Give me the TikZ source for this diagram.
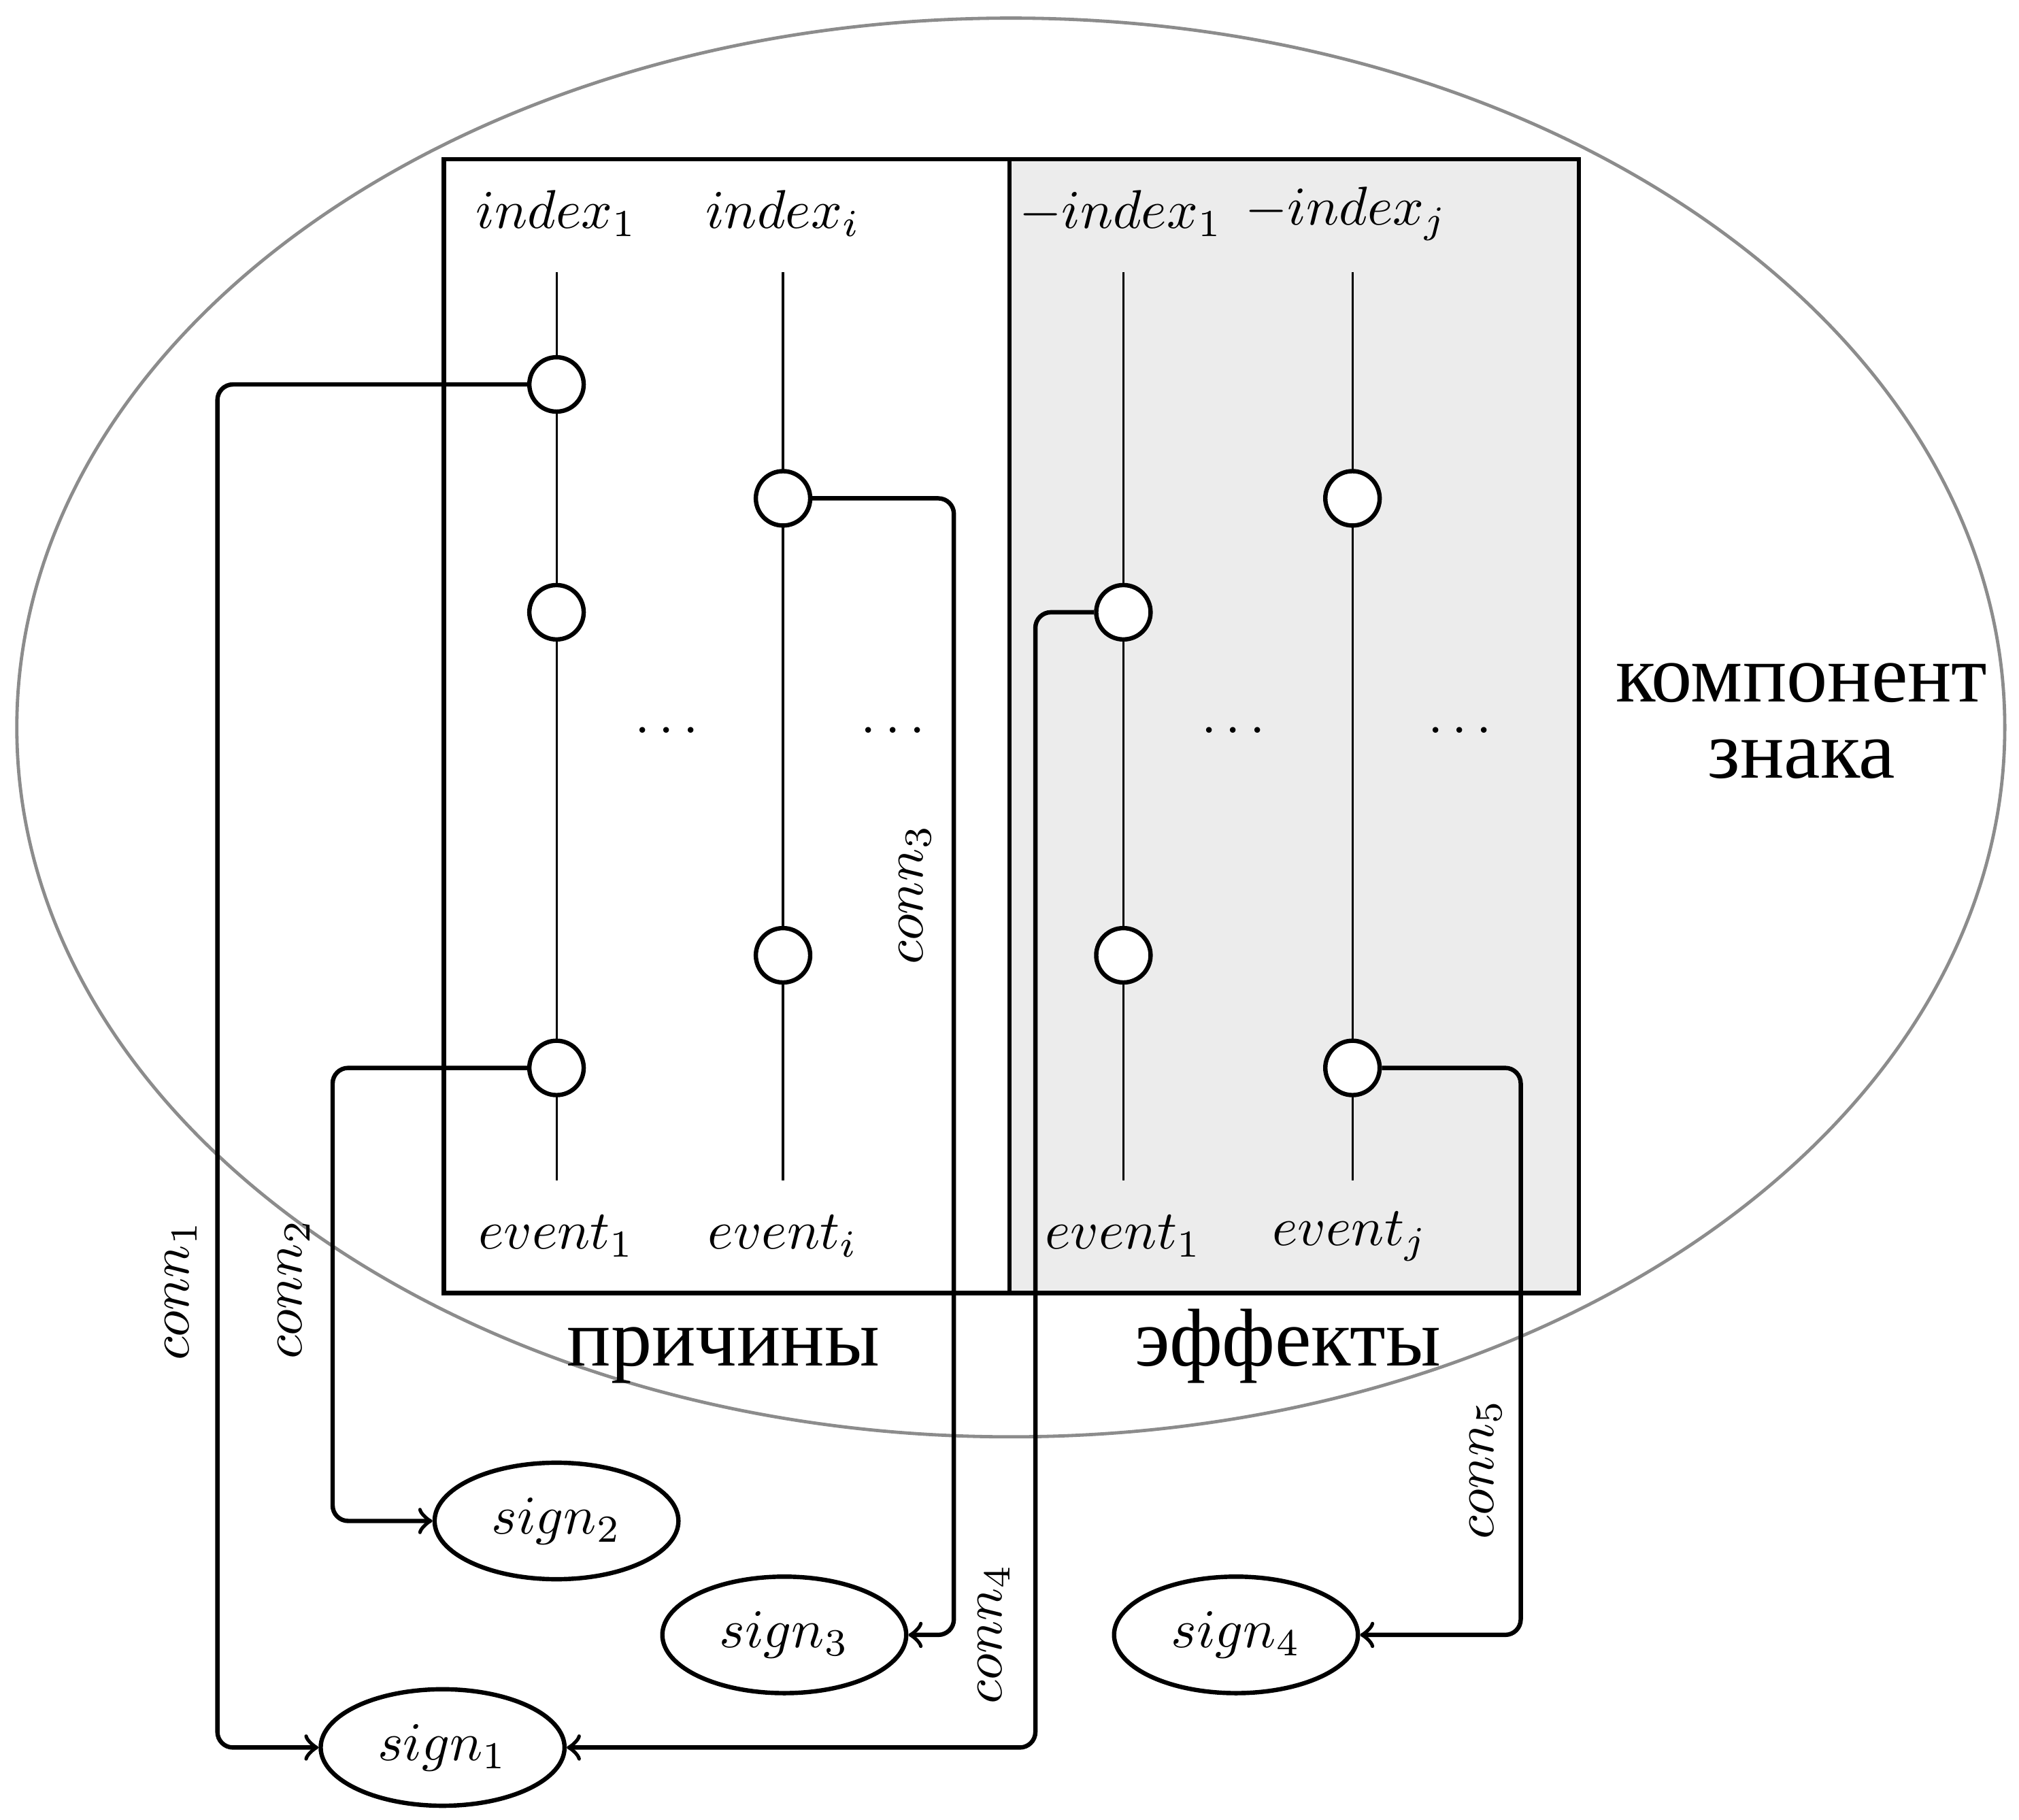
\documentclass[tikz,border=0pt]{standalone}
\usepackage{fontspec}
\newfontfamily\cyrfont{Liberation Serif}
\usetikzlibrary{shapes.geometric}
\tikzset{
  dot/.style={circle,draw,thick,fill=white,minimum size=0.35cm,inner sep=0pt},
  sgn/.style={ellipse,draw,thick,minimum width=1.57cm,minimum height=0.75cm,inner sep=0pt},
  conn/.style={thick,->,rounded corners=0.1cm},
  ru/.style={font=\cyrfont\fontsize{15}{17}\selectfont,anchor=base,inner sep=0pt}
}
\begin{document}
\begin{tikzpicture}[x=0.083333mm,y=-0.083333mm]
\useasboundingbox (0,0) rectangle (1560,1406);
\draw[black!45,semithick] (781,562) ellipse [x radius=768, y radius=548];
\begin{scope}[thick]
\draw (343,123) rectangle (780,999);
\draw[fill=gray!15] (780,123) rectangle (1220,999);
\end{scope}
\begin{scope}
\foreach \x in {430,605,868,1045} \draw (\x,210) -- (\x,912);
\end{scope}
\begin{scope}
\node (ia) at (430,165) {$index_1$};
\node (ib) at (605,165) {$index_i$};
\node (ic) at (866,165) {$-index_1$};
\node (id) at (1040,165) {$-index_j$};
\node (ea) at (430,955) {$event_1$};
\node (eb) at (605,955) {$event_i$};
\node (ec) at (868,955) {$event_1$};
\node (ed) at (1043,955) {$event_j$};
\node (da) at (515,564) {$\dots$};
\node (db) at (690,564) {$\dots$};
\node (dc) at (953,564) {$\dots$};
\node (dd) at (1128,564) {$\dots$};
\end{scope}
\begin{scope}
\node[dot] (a1) at (430,297) {};
\node[dot] (a2) at (430,473) {};
\node[dot] (a3) at (430,825) {};
\node[dot] (b1) at (605,385) {};
\node[dot] (b2) at (605,738) {};
\node[dot] (c1) at (868,473) {};
\node[dot] (c2) at (868,738) {};
\node[dot] (d1) at (1045,385) {};
\node[dot] (d2) at (1045,825) {};
\end{scope}
\begin{scope}
\node[ru] (pr) at (559,1055) {причины};
\node[ru] (ef) at (995,1055) {эффекты};
\node[ru] (kz1) at (1392,542) {компонент};
\node[ru] (kz2) at (1392,601) {знака};
\end{scope}
\begin{scope}
\node[sgn] (s1) at (342,1350) {$sign_1$};
\node[sgn] (s2) at (430,1175) {$sign_2$};
\node[sgn] (s3) at (606,1263) {$sign_3$};
\node[sgn] (s4) at (955,1263) {$sign_4$};
\end{scope}
\begin{scope}
\draw[conn] (a1) -- ++(-262,0) |- (s1);
\draw[conn] (a3) -- ++(-173,0) |- (s2);
\draw[conn] (b1) -- ++(132,0) |- (s3);
\draw[conn] (c1) -- ++(-68,0) |- (s1);
\draw[conn] (d2) -- ++(130,0) |- (s4);
\node[rotate=90] (l1) at (140,997) {$conn_1$};
\node[rotate=90] (l2) at (227,996) {$conn_2$};
\node[rotate=90] (l3) at (707,691) {$conn_3$};
\node[rotate=90] (l4) at (768,1262) {$conn_4$};
\node[rotate=90] (l5) at (1148,1135) {$conn_5$};
\end{scope}
\end{tikzpicture}
\end{document}
